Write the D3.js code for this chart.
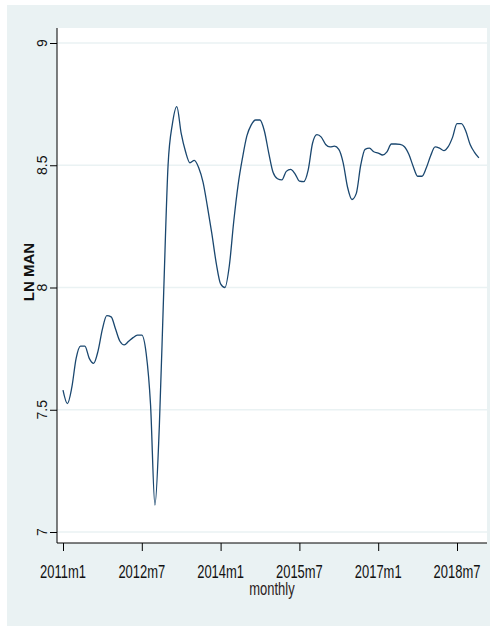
<!DOCTYPE html>
<html>
<head>
<meta charset="utf-8">
<script src="https://cdn.jsdelivr.net/npm/d3@7"></script>
<style>
  html, body { margin: 0; padding: 0; background: #ffffff; }
  svg { display: block; }
  text { font-family: "Liberation Sans", Arial, sans-serif; }
</style>
</head>
<body>
<svg id="chart" width="490" height="626"></svg>
<script>
// ---- data (monthly, 2011m1 .. 2018m12) ----
const startYear = 2011;
const lnMan = [
  7.58, 7.525, 7.59, 7.71, 7.76, 7.76, 7.71, 7.69, 7.74, 7.83, 7.885, 7.88,
  7.83, 7.78, 7.765, 7.78, 7.795, 7.805, 7.805, 7.73, 7.52, 7.11, 7.43, 7.98,
  8.50, 8.67, 8.74, 8.63, 8.555, 8.51, 8.52, 8.49, 8.43, 8.33, 8.22, 8.10,
  8.015, 8.00, 8.09, 8.27, 8.42, 8.53, 8.62, 8.665, 8.685, 8.685, 8.64, 8.55,
  8.47, 8.445, 8.44, 8.475, 8.483, 8.465, 8.435, 8.433, 8.48, 8.59, 8.625, 8.615,
  8.585, 8.575, 8.578, 8.565, 8.51, 8.41, 8.36, 8.385, 8.50, 8.565, 8.57, 8.555,
  8.55, 8.542, 8.555, 8.587, 8.587, 8.585, 8.576, 8.545, 8.495, 8.455, 8.455, 8.49,
  8.54, 8.575, 8.57, 8.56, 8.576, 8.615, 8.67, 8.67, 8.64, 8.585, 8.553, 8.53
];
const xTickMonths = [0, 18, 36, 54, 72, 90];
const xTickLabels = ["2011m1", "2012m7", "2014m1", "2015m7", "2017m1", "2018m7"];
const yTicks = [7, 7.5, 8, 8.5, 9];
const yTickLabels = ["7", "7.5", "8", "8.5", "9"];
const xTitle = "monthly";
const yTitle = "LN MAN";

// ---- layout ----
const svg = d3.select("#chart");
const W = 490, H = 626;
const plot = { left: 57, right: 487, top: 28, bottom: 543 };
const sx = 0.72; // horizontal squeeze of the horizontal texts

svg.append("rect").attr("x", 7).attr("y", 5).attr("width", W - 7).attr("height", H - 5)
  .attr("fill", "#eaf2f3");
svg.append("rect").attr("x", plot.left).attr("y", plot.top)
  .attr("width", plot.right - plot.left).attr("height", plot.bottom - plot.top)
  .attr("fill", "#ffffff");

const x = d3.scaleLinear().domain([0, 90]).range([63, 457]);
const y = d3.scaleLinear().domain([7, 9]).range([532, 43]);

// gridlines
svg.append("g").selectAll("line").data(yTicks).join("line")
  .attr("x1", plot.left).attr("x2", plot.right)
  .attr("y1", d => y(d)).attr("y2", d => y(d))
  .attr("stroke", "#eaf2f3").attr("stroke-width", 1.5);

// series line
const data = lnMan.map((v, i) => ({ m: i, v }));
svg.append("path").datum(data)
  .attr("fill", "none")
  .attr("stroke", "#1a476f")
  .attr("stroke-width", 1.3)
  .attr("stroke-linejoin", "round")
  .attr("d", d3.line().curve(d3.curveMonotoneX).x(d => x(d.m)).y(d => y(d.v)));

// y axis
const yAxis = d3.axisLeft(y).tickValues(yTicks).tickSize(7).tickFormat("");
const gy = svg.append("g").attr("transform", `translate(${plot.left},0)`).call(yAxis);
gy.select(".domain").attr("d", `M0,${plot.top}V${plot.bottom}`).attr("stroke", "#000");
gy.selectAll(".tick line").attr("stroke", "#000");

svg.append("g").selectAll("text").data(yTicks).join("text")
  .attr("transform", d => `translate(47,${y(d)}) rotate(-90)`)
  .attr("text-anchor", "middle")
  .attr("font-size", 14)
  .attr("fill", "#111")
  .text((d, i) => yTickLabels[i]);

// x axis
const xAxis = d3.axisBottom(x).tickValues(xTickMonths).tickSize(8).tickFormat("");
const gx = svg.append("g").attr("transform", `translate(0,${plot.bottom})`).call(xAxis);
gx.select(".domain").attr("d", `M${plot.left},0H${plot.right}`).attr("stroke", "#000");
gx.selectAll(".tick line").attr("stroke", "#000");

svg.append("g").selectAll("text").data(xTickMonths).join("text")
  .attr("transform", d => `translate(${x(d)},578) scale(${sx},1)`)
  .attr("text-anchor", "middle")
  .attr("font-size", 18)
  .attr("fill", "#111")
  .text((d, i) => xTickLabels[i]);

// titles
svg.append("text")
  .attr("transform", `translate(${(plot.left + plot.right) / 2},595) scale(${sx},1)`)
  .attr("text-anchor", "middle").attr("font-size", 18).attr("fill", "#2a2020")
  .text(xTitle);

svg.append("text")
  .attr("transform", `translate(34,272) rotate(-90)`)
  .attr("text-anchor", "middle").attr("font-size", 15).attr("font-weight", "bold")
  .attr("fill", "#111")
  .text(yTitle);
</script>
</body>
</html>
